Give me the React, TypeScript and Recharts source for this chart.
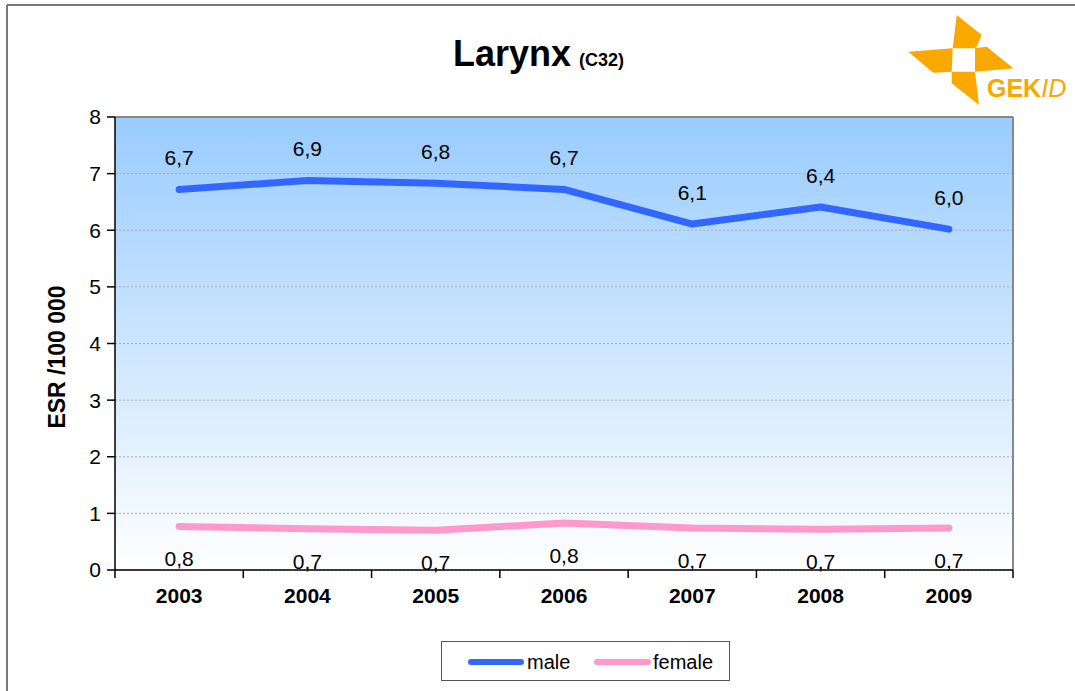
import React from 'react';
import { LineChart, Line, XAxis, YAxis, CartesianGrid, Legend, LabelList, ReferenceLine } from 'recharts';

const years = [2003, 2004, 2005, 2006, 2007, 2008, 2009];
const maleValues = [6.72, 6.88, 6.83, 6.72, 6.11, 6.41, 6.02];
const femaleValues = [0.77, 0.73, 0.7, 0.83, 0.74, 0.72, 0.74];
const yTicks = [0, 1, 2, 3, 4, 5, 6, 7, 8];

const data = years.map((year, i) => ({ year, male: maleValues[i], female: femaleValues[i] }));

const W = 1075;
const H = 691;
const MARGIN = { top: 117, right: 62, bottom: 41, left: 55 };
const Y_AXIS_W = 60;
const BAND = (W - MARGIN.left - MARGIN.right - Y_AXIS_W) / years.length;
const FONT = '"Liberation Sans", Arial, sans-serif';
const MALE = '#3366FF';
const FEMALE = '#FF99CC';

const fmt = (v: number) => v.toFixed(1).replace('.', ',');

const XTick = (props: any) => {
  const { x, y, payload, index } = props;
  const top = y - 8;
  return (
    <g>
      <line x1={x - BAND / 2} x2={x - BAND / 2} y1={top} y2={top + 8} stroke="#000" strokeWidth={1.5} />
      {index === years.length - 1 && (
        <line x1={x + BAND / 2} x2={x + BAND / 2} y1={top} y2={top + 8} stroke="#000" strokeWidth={1.5} />
      )}
      <text x={x} y={y + 25} textAnchor="middle" fontFamily={FONT} fontSize={21} fontWeight="bold" fill="#000">
        {payload.value}
      </text>
    </g>
  );
};

const maleLabel = (props: any) => (
  <text x={props.x} y={props.y - 24} textAnchor="middle" fontFamily={FONT} fontSize={21} fill="#000">
    {fmt(props.value)}
  </text>
);

const femaleLabel = (props: any) => (
  <text x={props.x} y={props.y + 40} textAnchor="middle" fontFamily={FONT} fontSize={21} fill="#000">
    {fmt(props.value)}
  </text>
);

const LegendBox = () => (
  <div
    style={{
      width: 289,
      height: 40,
      border: '1px solid #555',
      boxSizing: 'border-box',
      fontFamily: FONT,
      position: 'relative',
      background: '#fff',
    }}
  >
    <svg width={287} height={38} style={{ position: 'absolute', left: 0, top: 0 }}>
      <line x1={29} x2={79} y1={20} y2={20} stroke={MALE} strokeWidth={6} strokeLinecap="round" />
      <text x={85} y={27} fontFamily={FONT} fontSize={20} fill="#000">male</text>
      <line x1={155} x2={206} y1={20} y2={20} stroke={FEMALE} strokeWidth={6} strokeLinecap="round" />
      <text x={211} y={27} fontFamily={FONT} fontSize={20} fill="#000">female</text>
    </svg>
  </div>
);

const Logo = () => (
  <g fill="#F9A800">
    <polygon points="956.7,15 981.7,35 976.7,46.7 975,48.3 952.7,48.3" />
    <polygon points="908.3,51.7 952.7,48.3 951.7,71.7 933.3,72.7" />
    <polygon points="975,48.3 986.7,46.7 1013.3,68.3 975,71.7" />
    <polygon points="951.7,71.7 975,71.7 979,105 951.7,83.3" />
    <text x={987} y={97} fontFamily={FONT} fontSize={25} fontWeight="bold">
      GEK<tspan fontStyle="italic" fontWeight="normal">ID</tspan>
    </text>
  </g>
);

export default function App() {
  return (
    <div style={{ position: 'absolute', left: 0, top: 0, width: W, height: H, background: '#fff' }}>
      <LineChart width={W} height={H} data={data} margin={MARGIN}>
        <defs>
          <linearGradient id="plotBg" x1="0" y1="0" x2="0" y2="1">
            <stop offset="0%" stopColor="#99CCFF" />
            <stop offset="100%" stopColor="#FFFFFF" />
          </linearGradient>
        </defs>
        <CartesianGrid
          vertical={false}
          stroke="#aaa"
          strokeDasharray="2 2"
          fill="url(#plotBg)"
          fillOpacity={1}
        />
        <XAxis
          dataKey="year"
          type="number"
          domain={[2002.5, 2009.5]}
          ticks={years}
          interval={0}
          tickLine={false}
          tickSize={8}
          tickMargin={0}
          height={40}
          axisLine={{ stroke: '#000', strokeWidth: 1.5 }}
          tick={<XTick />}
        />
        <YAxis
          domain={[0, 8]}
          ticks={yTicks}
          interval={0}
          width={Y_AXIS_W}
          tickSize={8}
          tickMargin={6}
          axisLine={{ stroke: '#000', strokeWidth: 1.5 }}
          tickLine={{ stroke: '#000', strokeWidth: 1.5 }}
          tick={{ fontFamily: FONT, fontSize: 21, fill: '#000' }}
        />
        <ReferenceLine y={8} stroke="#888" strokeWidth={2} />
        <ReferenceLine x={2009.5} stroke="#888" strokeWidth={2} />
        <Legend
          content={<LegendBox />}
          wrapperStyle={{ position: 'absolute', left: 441, top: 641, width: 289, height: 40, bottom: 'auto' }}
        />
        <Line
          dataKey="male"
          name="male"
          stroke={MALE}
          strokeWidth={7}
          strokeLinecap="round"
          strokeLinejoin="round"
          dot={false}
          isAnimationActive={false}
        >
          <LabelList dataKey="male" content={maleLabel} />
        </Line>
        <Line
          dataKey="female"
          name="female"
          stroke={FEMALE}
          strokeWidth={7}
          strokeLinecap="round"
          strokeLinejoin="round"
          dot={false}
          isAnimationActive={false}
        >
          <LabelList dataKey="female" content={femaleLabel} />
        </Line>
      </LineChart>
      <svg width={W} height={H} style={{ position: 'absolute', left: 0, top: 0, pointerEvents: 'none' }}>
        <line x1={7} x2={W} y1={5} y2={5} stroke="#777" strokeWidth={2} />
        <line x1={7} x2={7} y1={5} y2={H} stroke="#777" strokeWidth={2} />
        <text x={453} y={66} fontFamily={FONT} fill="#000" fontWeight="bold">
          <tspan fontSize={36}>Larynx</tspan>
          <tspan fontSize={18} dx={8}>(C32)</tspan>
        </text>
        <text
          transform="translate(65,357) rotate(-90)"
          textAnchor="middle"
          fontFamily={FONT}
          fontSize={23}
          fontWeight="bold"
          fill="#000"
        >
          ESR /100 000
        </text>
        <Logo />
      </svg>
    </div>
  );
}
